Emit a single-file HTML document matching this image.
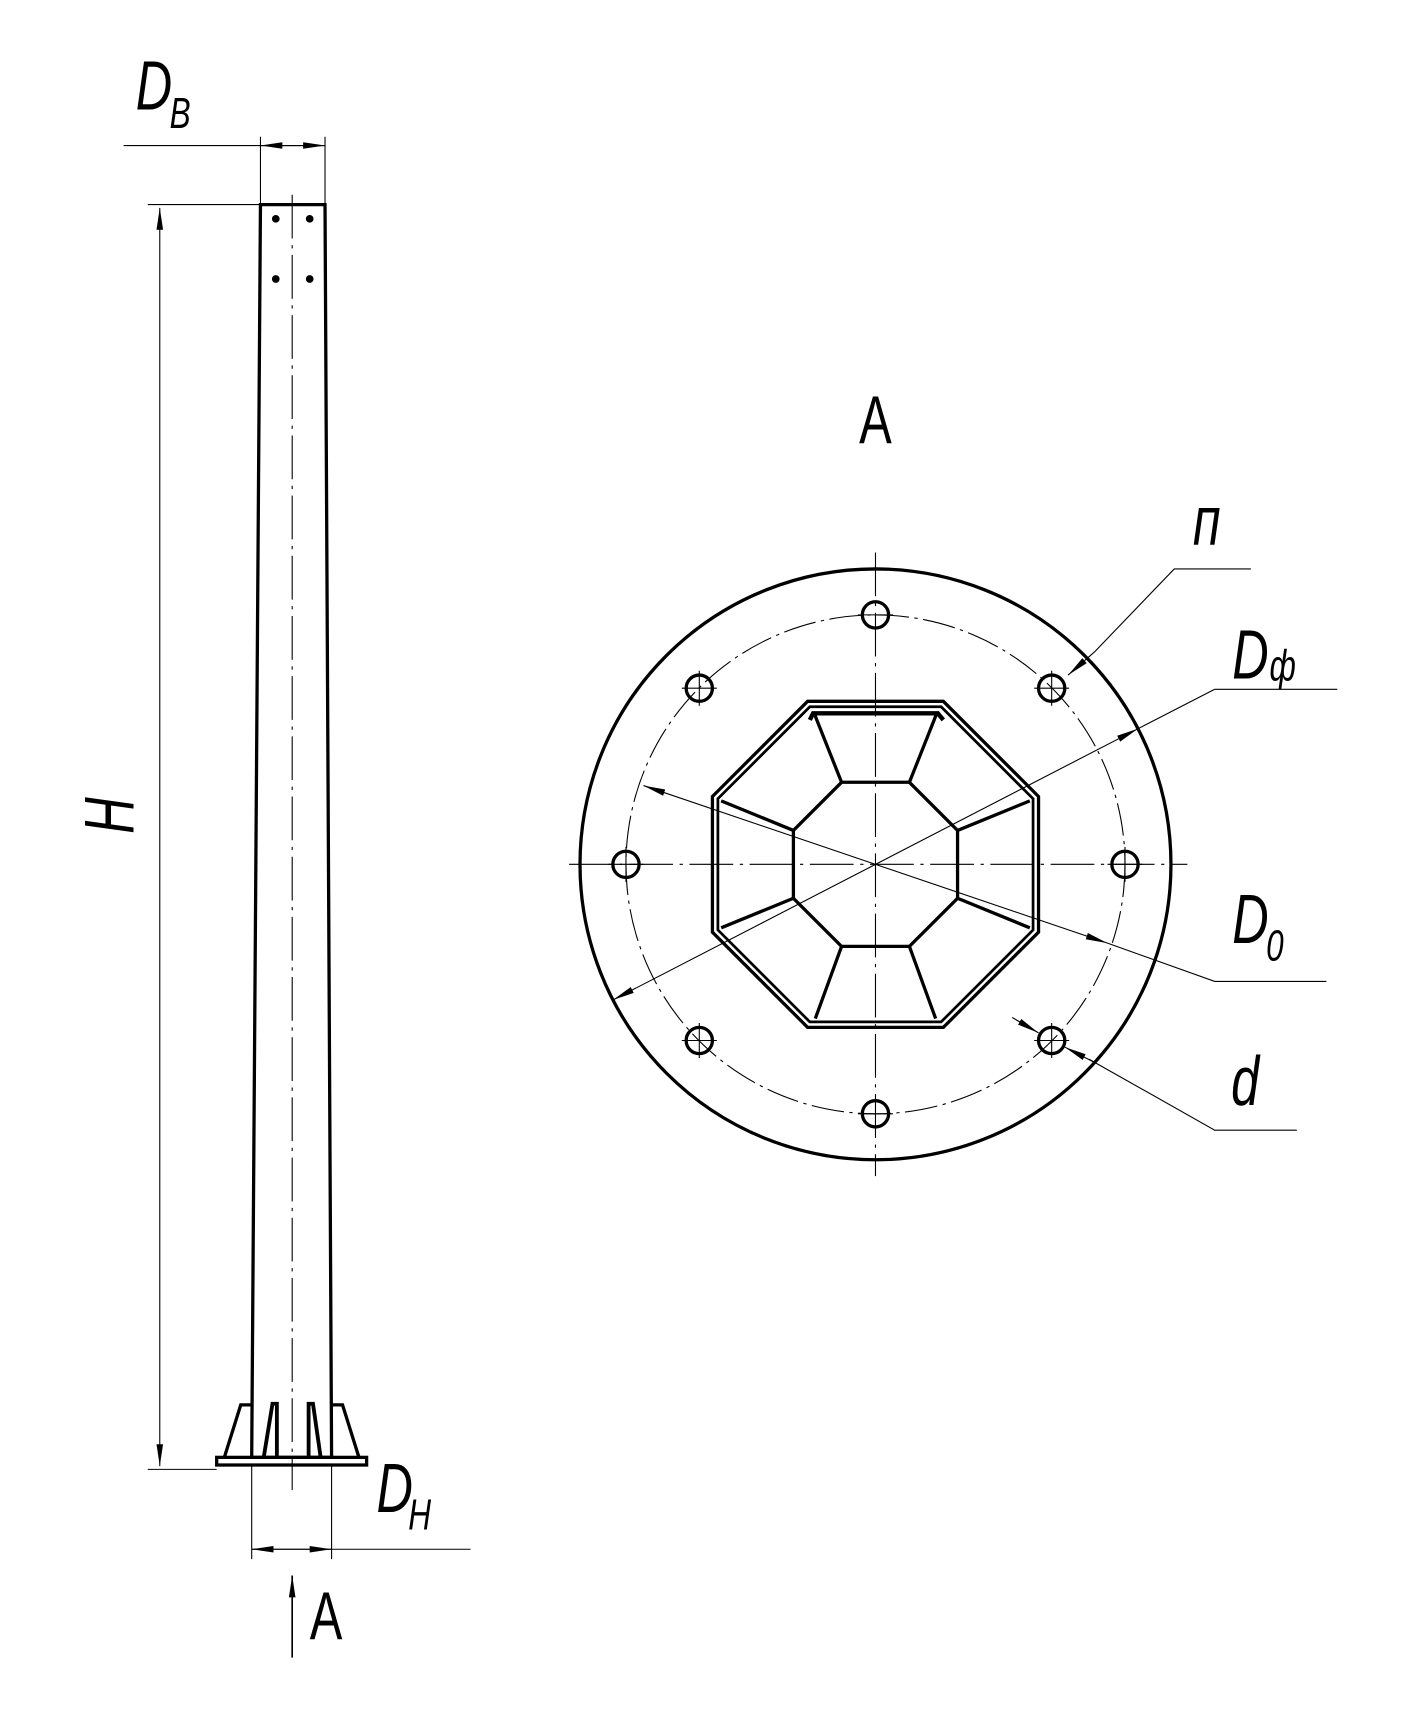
<!DOCTYPE html>
<html><head><meta charset="utf-8"><style>html,body{margin:0;padding:0;background:#fff}svg{display:block}</style></head>
<body>
<svg width="1415" height="1709" viewBox="0 0 1293 1562" preserveAspectRatio="none" xmlns="http://www.w3.org/2000/svg">
<defs>
<marker id="ar" viewBox="0 0 20 8" refX="20" refY="4" markerWidth="20" markerHeight="8" markerUnits="userSpaceOnUse" orient="auto-start-reverse"><path d="M0,1 L20,4 L0,7 Z" fill="#000"/></marker>
</defs>
<g fill="none" stroke="#000">
<!-- pole -->
<path d="M238,187 L297,187 L303,1332 L230,1332 Z" stroke-width="3"/>
<line x1="267" y1="178" x2="267" y2="1362" stroke-width="1" stroke-dasharray="40,6,3,6"/>
<rect x="198" y="1332" width="137" height="7" stroke-width="3"/>
<path d="M205,1332 L220,1284 L230,1284" stroke-width="3"/>
<path d="M328,1332 L313,1284 L303,1284" stroke-width="3"/>
<path d="M241,1332 L249,1283 L253,1283 L253,1332" stroke-width="3.5"/>
<path d="M293,1332 L286,1283 L282,1283 L282,1332" stroke-width="3.5"/>
<!-- DB dim -->
<line x1="113" y1="133" x2="297" y2="133" stroke-width="1"/>
<line x1="238" y1="125" x2="238" y2="187" stroke-width="1"/>
<line x1="297" y1="125" x2="297" y2="187" stroke-width="1"/>
<line x1="267" y1="133" x2="238" y2="133" stroke-width="1" marker-end="url(#ar)"/>
<line x1="267" y1="133" x2="297" y2="133" stroke-width="1" marker-end="url(#ar)"/>
<!-- H dim -->
<line x1="135" y1="187" x2="238" y2="187" stroke-width="1"/>
<line x1="135" y1="1343" x2="198" y2="1343" stroke-width="1"/>
<line x1="146" y1="190" x2="146" y2="1340" stroke-width="1" marker-start="url(#ar)" marker-end="url(#ar)"/>
<!-- DH dim -->
<line x1="230" y1="1339" x2="230" y2="1425" stroke-width="1"/>
<line x1="303" y1="1339" x2="303" y2="1425" stroke-width="1"/>
<line x1="230" y1="1416" x2="430" y2="1416" stroke-width="1"/>
<line x1="266" y1="1416" x2="230" y2="1416" stroke-width="1" marker-end="url(#ar)"/>
<line x1="266" y1="1416" x2="303" y2="1416" stroke-width="1" marker-end="url(#ar)"/>
<!-- A arrow -->
<line x1="267" y1="1515" x2="267" y2="1440" stroke-width="1.5" marker-end="url(#ar)"/>

<!-- flange -->
<circle cx="800" cy="790" r="270" stroke-width="3"/>
<circle cx="800" cy="790" r="228" stroke-width="1" stroke-dasharray="30,5,3,5"/>
<line x1="520" y1="790" x2="1085" y2="790" stroke-width="1" stroke-dasharray="40,6,3,6"/>
<line x1="800" y1="505" x2="800" y2="1075" stroke-width="1" stroke-dasharray="40,6,3,6"/>
<g stroke-width="3">
<circle cx="800" cy="562" r="12"/><circle cx="961" cy="629" r="12"/><circle cx="1028" cy="790" r="12"/><circle cx="961" cy="951" r="12"/>
<circle cx="800" cy="1018" r="12"/><circle cx="639" cy="951" r="12"/><circle cx="572" cy="790" r="12"/><circle cx="639" cy="629" r="12"/>
</g>
<g stroke-width="1">
<path d="M945,629 h32 M961,613 v32 M623,629 h32 M639,613 v32 M945,951 h32 M961,935 v32 M623,951 h32 M639,935 v32 M784,562 h32 M784,1018 h32 M1012,790 h32 M1028,774 v32 M556,790 h32 M572,774 v32"/>
</g>
<!-- octagon -->
<g transform="translate(800,790)">
<polygon points="-62,-149 62,-149 149,-62 149,62 62,149 -62,149 -149,62 -149,-62" stroke-width="3"/>
<polygon points="-60,-144 60,-144 144,-60 144,60 60,144 -60,144 -144,60 -144,-60" stroke-width="2.5"/>
<polygon points="-31,-75 31,-75 75,-31 75,31 31,75 -31,75 -75,31 -75,-31" stroke-width="3"/>
<path d="M-31,-75 L-56,-138 M31,-75 L56,-138 M-31,75 L-55,141 M31,75 L55,141 M-75,-31 L-141,-58 M-75,31 L-141,58 M75,-31 L141,-58 M75,31 L141,58" stroke-width="3"/>
<path d="M-60,-132 L-57,-138 L57,-138 L62,-132" stroke-width="4"/>
</g>
<!-- DФ -->
<line x1="1110" y1="630" x2="1222" y2="630" stroke-width="1"/>
<line x1="1110" y1="630" x2="1040" y2="666" stroke-width="1"/>
<line x1="800" y1="790" x2="1040" y2="666" stroke-width="1" marker-end="url(#ar)"/>
<line x1="800" y1="790" x2="560" y2="914" stroke-width="1" marker-end="url(#ar)"/>
<!-- D0 -->
<line x1="800" y1="790" x2="1012" y2="862" stroke-width="1" marker-end="url(#ar)"/>
<line x1="800" y1="790" x2="588" y2="718" stroke-width="1" marker-end="url(#ar)"/>
<path d="M1012,862 L1110,897 L1212,897" stroke-width="1"/>
<!-- n -->
<path d="M1143,520 L1073,520 L1000,596" stroke-width="1"/>
<line x1="1000" y1="596" x2="976" y2="617" stroke-width="1" marker-end="url(#ar)"/>
<!-- d -->
<line x1="925" y1="930" x2="949" y2="944" stroke-width="1" marker-end="url(#ar)"/>
<path d="M1185,1033 L1110,1033 L995,968" stroke-width="1"/>
<line x1="1000" y1="971" x2="973" y2="957" stroke-width="1" marker-end="url(#ar)"/>
</g>
<g fill="#000">
<circle cx="252" cy="200" r="3.5"/><circle cx="283" cy="200" r="3.5"/>
<circle cx="252" cy="255" r="3.5"/><circle cx="283" cy="255" r="3.5"/>
</g>
<g font-family="Liberation Sans, sans-serif" font-style="italic" fill="#000">
<text transform="translate(124,100) scale(0.72,1)" font-size="64">D</text>
<text transform="translate(155,117) scale(0.72,1)" font-size="40">B</text>
<text transform="translate(122,762) rotate(-90) scale(0.72,1)" font-size="64">H</text>
<text transform="translate(344,1382) scale(0.72,1)" font-size="64">D</text>
<text transform="translate(373,1398) scale(0.72,1)" font-size="40">H</text>
<text transform="translate(1126,620) scale(0.72,1)" font-size="64">D</text>
<text transform="translate(1160,622) scale(0.72,1)" font-size="40">ф</text>
<text transform="translate(1126,862) scale(0.72,1)" font-size="64">D</text>
<text transform="translate(1157,878) scale(0.72,1)" font-size="40">0</text>
<text transform="translate(1090,498) scale(0.72,1)" font-size="64">п</text>
<text transform="translate(1125,1010) scale(0.72,1)" font-size="64">d</text>
</g>
<g font-family="Liberation Sans, sans-serif" fill="#000">
<text transform="translate(283,1498) scale(0.72,1)" font-size="62">A</text>
<text transform="translate(785,405) scale(0.72,1)" font-size="62">A</text>
</g>
</svg>
</body></html>
